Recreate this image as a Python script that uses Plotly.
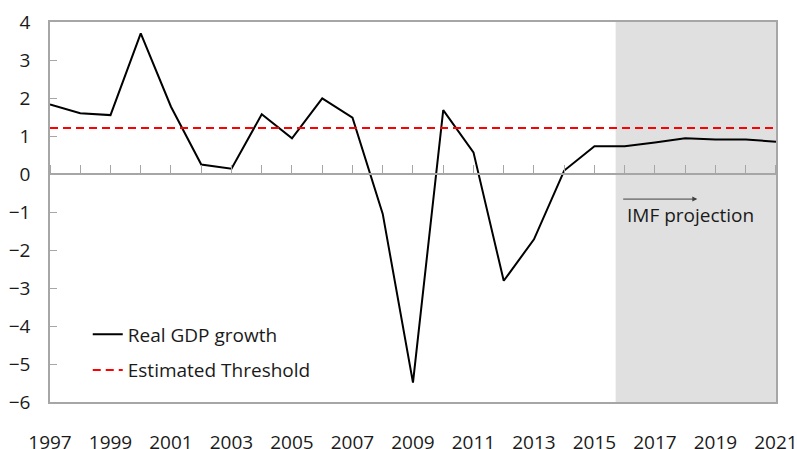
import plotly.graph_objects as go

years = list(range(1997, 2022))
gdp_growth = [1.83, 1.60, 1.55, 3.70, 1.77, 0.25, 0.14, 1.57, 0.94, 1.99, 1.48,
              -1.05, -5.49, 1.68, 0.57, -2.81, -1.72, 0.09, 0.73, 0.73, 0.83,
              0.94, 0.91, 0.91, 0.85]
threshold = 1.21
projection_start = 2015.7
tick_years = list(range(1997, 2022, 2))
y_ticks = list(range(-6, 5))

font_family = "Open Sans, Noto Sans, sans-serif"
txt_color = "#1a1a1a"
axis_gray = "#a6a6a6"

fig = go.Figure()

fig.add_trace(go.Scatter(
    x=years, y=gdp_growth, mode="lines", name="Real GDP growth",
    line=dict(color="black", width=2), legendgroup="a"))
fig.add_trace(go.Scatter(
    x=[years[0], years[-1]], y=[threshold, threshold], mode="lines",
    name="Estimated Threshold", legendgroup="b",
    line=dict(color="#ff0000", width=2, dash="8px,5px")))

# invisible trace so the zero-line axis (with yearly ticks) is drawn
fig.add_trace(go.Scatter(x=[years[0]], y=[0], xaxis="x2", mode="markers",
                         marker=dict(opacity=0), showlegend=False, hoverinfo="skip"))

fig.add_shape(type="rect", xref="x", yref="paper", x0=projection_start, x1=years[-1],
              y0=0, y1=1, fillcolor="#e0e0e0", line=dict(width=0), layer="below")

fig.add_annotation(x=2018.4, y=-0.66, ax=2015.9, ay=-0.66, xref="x", yref="y",
                   axref="x", ayref="y", text="", showarrow=True,
                   arrowhead=2, arrowsize=1, arrowwidth=1, arrowcolor="#404040")
fig.add_annotation(x=2016.0, y=-1.08, xref="x", yref="y", text="IMF projection",
                   showarrow=False, xanchor="left", yanchor="middle",
                   font=dict(size=19, color=txt_color, family=font_family))

fig.update_layout(
    width=797, height=449,
    margin=dict(l=50, r=21, t=22, b=47, autoexpand=False),
    paper_bgcolor="white", plot_bgcolor="white",
    font=dict(family=font_family, size=19, color=txt_color),
    xaxis=dict(range=[1997, 2021.001], tickvals=tick_years, ticks="",
               showgrid=False, zeroline=False, showline=True, mirror=True,
               linecolor=axis_gray, linewidth=1.5, ticklabelstandoff=22,
               ticklabeloverflow="allow",
               automargin=False, tickfont=dict(size=19, color=txt_color)),
    xaxis2=dict(range=[1997, 2021.001], overlaying="x", anchor="free", position=0.6,
                side="top", tickvals=years, ticks="outside", ticklen=8,
                tickcolor=axis_gray, tickwidth=1, showticklabels=False,
                showgrid=False, zeroline=False, showline=True, automargin=False,
                linecolor=axis_gray, linewidth=1.5),
    yaxis=dict(range=[-6, 4], tickvals=y_ticks, ticks="inside", ticklen=7,
               tickcolor=axis_gray, showgrid=False, zeroline=False,
               showline=True, mirror=True, linecolor=axis_gray, linewidth=1.5,
               ticklabelstandoff=14, automargin=False,
               tickfont=dict(size=19, color=txt_color)),
    legend=dict(x=0.052, y=0.228, xanchor="left", yanchor="top",
                bgcolor="rgba(0,0,0,0)", tracegroupgap=8, traceorder="grouped",
                font=dict(size=19, color=txt_color, family=font_family)),
    showlegend=True,
)

# remove the default 8px page margin so the figure fills the window exactly
fig.write_html("out.html",
               config={"displayModeBar": False},
               post_script="document.body.style.margin='0';"
                           "document.body.style.overflow='hidden';")
